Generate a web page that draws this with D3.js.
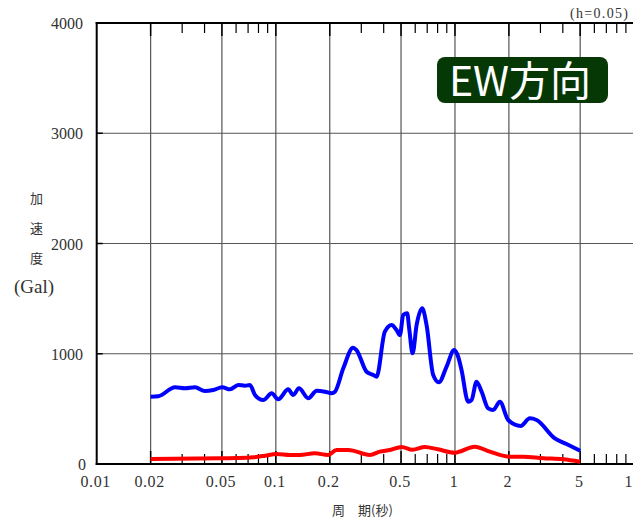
<!DOCTYPE html>
<html><head><meta charset="utf-8">
<script src="https://cdn.jsdelivr.net/npm/d3@7"></script>
<style>html,body{margin:0;padding:0;background:#fff;}svg{display:block;}</style>
</head><body>
<script>
// ---- data ----
const bluePeriod = [0.02,0.0221,0.0274,0.0311,0.0354,0.0402,0.0447,0.0502,0.0555,0.0617,0.0672,0.0717,0.0765,0.0851,0.0948,0.1031,0.1173,0.1251,0.1346,0.1517,0.169,0.188,0.205,0.214,0.238,0.270,0.282,0.321,0.350,0.365,0.406,0.443,0.472,0.493,0.514,0.541,0.555,0.580,0.611,0.656,0.694,0.756,0.813,0.898,0.990,1.042,1.088,1.185,1.238,1.320,1.408,1.532,1.634,1.781,1.982,2.323,2.618,2.854,3.61,4.196,5.0];
const blueAcc = [610,615,696,687,696,662,671,696,677,717,710,717,626,580,641,587,677,626,687,596,665,656,641,656,868,1055,1034,837,807,792,1200,1261,1215,1170,1351,1367,1231,1004,1261,1412,1261,807,741,883,1034,973,853,565,580,747,656,505,490,565,399,345,414,399,233,181,120];
const redPeriod = [0.02,0.0488,0.0604,0.0748,0.087,0.101,0.120,0.136,0.165,0.196,0.218,0.254,0.335,0.381,0.433,0.504,0.579,0.679,0.803,0.999,1.29,1.566,2.025,2.40,3.11,4.02,5.0];
const redAcc = [45,52,54,61,75,91,82,82,97,82,127,127,82,112,127,155,130,155,133,103,157,112,66,66,52,43,21];
const xTickValues = [0.01,0.02,0.05,0.1,0.2,0.5,1,2,5,10];
const xTickLabels = ["0.01","0.02","0.05","0.1","0.2","0.5","1","2","5","10"];
const xGridValues = [0.02,0.05,0.1,0.2,0.5,1,2,5];
const xMinorValues = [0.03,0.04,0.06,0.07,0.08,0.09,0.3,0.4,0.6,0.7,0.8,0.9,3,4,6,7,8,9];
const yTickValues = [0,1000,2000,3000,4000];
const yTickLabels = ["0","1000","2000","3000","4000"];
const yGridValues = [1000,2000,3000];
const titleText = "EW方向";
const noteText = "(h=0.05)";
const yTitleChars = ["加","速","度"];
const yUnit = "(Gal)";
const xTitle = "周　期(秒)";

// ---- chart ----
const W = 633, H = 519;
const L = 96.7, R = 634.1, T = 23, B = 464;
const svg = d3.select("body").append("svg").attr("width", W).attr("height", H);
const x = d3.scaleLog().domain([0.01, 10]).range([L, R]);
const y = d3.scaleLinear().domain([0, 4000]).range([B, T]);

// grid
const g = svg.append("g");
g.selectAll(".vg").data(xGridValues).join("line")
  .attr("x1", d => x(d)).attr("x2", d => x(d)).attr("y1", T).attr("y2", B)
  .attr("stroke", "#555").attr("stroke-width", 1.2);
g.selectAll(".hg").data(yGridValues).join("line")
  .attr("x1", L).attr("x2", R).attr("y1", d => y(d)).attr("y2", d => y(d))
  .attr("stroke", "#555").attr("stroke-width", 1.2);

// ticks top & bottom
[[T, 1], [B, -1]].forEach(([yy, dir]) => {
  g.selectAll(null).data(xGridValues).join("line")
    .attr("x1", d => x(d)).attr("x2", d => x(d)).attr("y1", yy).attr("y2", yy + dir * 13)
    .attr("stroke", "#000").attr("stroke-width", 1.5);
  g.selectAll(null).data(xMinorValues).join("line")
    .attr("x1", d => x(d)).attr("x2", d => x(d)).attr("y1", yy).attr("y2", yy + dir * 10)
    .attr("stroke", "#000").attr("stroke-width", 1.2);
});
// y ticks
g.selectAll(null).data(yGridValues).join("line")
  .attr("x1", L).attr("x2", L + 6).attr("y1", d => y(d)).attr("y2", d => y(d))
  .attr("stroke", "#000").attr("stroke-width", 1.5);

// frame
svg.append("line").attr("x1", L).attr("x2", L).attr("y1", T - 1).attr("y2", B + 1).attr("stroke", "#000").attr("stroke-width", 2);
svg.append("line").attr("x1", L - 1).attr("x2", R).attr("y1", B).attr("y2", B).attr("stroke", "#000").attr("stroke-width", 2);
svg.append("line").attr("x1", L - 1).attr("x2", R).attr("y1", T).attr("y2", T).attr("stroke", "#000").attr("stroke-width", 2);
svg.append("line").attr("x1", R).attr("x2", R).attr("y1", T).attr("y2", B).attr("stroke", "#000").attr("stroke-width", 2);

// curves
const line = d3.line().x(d => x(d[0])).y(d => y(d[1])).curve(d3.curveMonotoneX);
svg.append("path").datum(redPeriod.map((p, i) => [p, redAcc[i]]))
  .attr("d", line).attr("fill", "none").attr("stroke", "#ff0000").attr("stroke-width", 4).attr("stroke-linejoin", "round");
svg.append("path").datum(bluePeriod.map((p, i) => [p, blueAcc[i]]))
  .attr("d", line).attr("fill", "none").attr("stroke", "#0000ff").attr("stroke-width", 4).attr("stroke-linejoin", "round");

// x axis labels
const xAxis = d3.axisBottom(x).tickValues(xTickValues).tickSize(0)
  .tickFormat((d, i) => xTickLabels[i]);
const xa = svg.append("g").attr("transform", `translate(-1.5,${B})`).call(xAxis);
xa.select(".domain").remove();
xa.selectAll("text").attr("y", 23).attr("dy", 0)
  .attr("font-family", "'Liberation Serif', serif").attr("font-size", 16).attr("fill", "#333")
  .attr("letter-spacing", "0.6px");

// y axis labels
const yAxis = d3.axisLeft(y).tickValues(yTickValues).tickSize(0)
  .tickFormat((d, i) => yTickLabels[i]);
const ya = svg.append("g").attr("transform", `translate(83,0)`).call(yAxis);
ya.select(".domain").remove();
ya.selectAll("text").attr("x", d => d === 0 ? 3 : 0).attr("dy", "0.35em")
  .attr("font-family", "'Liberation Serif', serif").attr("font-size", 16).attr("fill", "#333");

// y title
svg.selectAll(".yt").data(yTitleChars).join("text")
  .attr("x", 36.5).attr("y", (d, i) => 203 + i * 30)
  .attr("text-anchor", "middle").attr("font-family", "'Noto Sans CJK JP', sans-serif")
  .attr("font-size", 13).attr("fill", "#333").text(d => d);
svg.append("text").attr("x", 34).attr("y", 293).attr("text-anchor", "middle")
  .attr("font-family", "'Liberation Serif', serif").attr("font-size", 19).attr("fill", "#333").text(yUnit);

// x title
svg.append("text").attr("x", 332).attr("y", 515)
  .attr("font-family", "'Noto Sans CJK JP', sans-serif").attr("font-size", 13).attr("fill", "#333").text(xTitle);

// note
svg.append("text").attr("x", 570).attr("y", 18)
  .attr("font-family", "'Liberation Serif', serif").attr("font-size", 14).attr("fill", "#333")
  .attr("textLength", 58).attr("lengthAdjust", "spacing").text(noteText);

// title box
svg.append("rect").attr("x", 437).attr("y", 57).attr("width", 171).attr("height", 46)
  .attr("rx", 8).attr("fill", "#053805");
svg.append("text").attr("x", 520).attr("y", 96).attr("text-anchor", "middle")
  .attr("font-family", "'Noto Sans CJK JP', sans-serif").attr("font-size", 41).attr("fill", "#fff")
  .text(titleText);
</script>
</body></html>
